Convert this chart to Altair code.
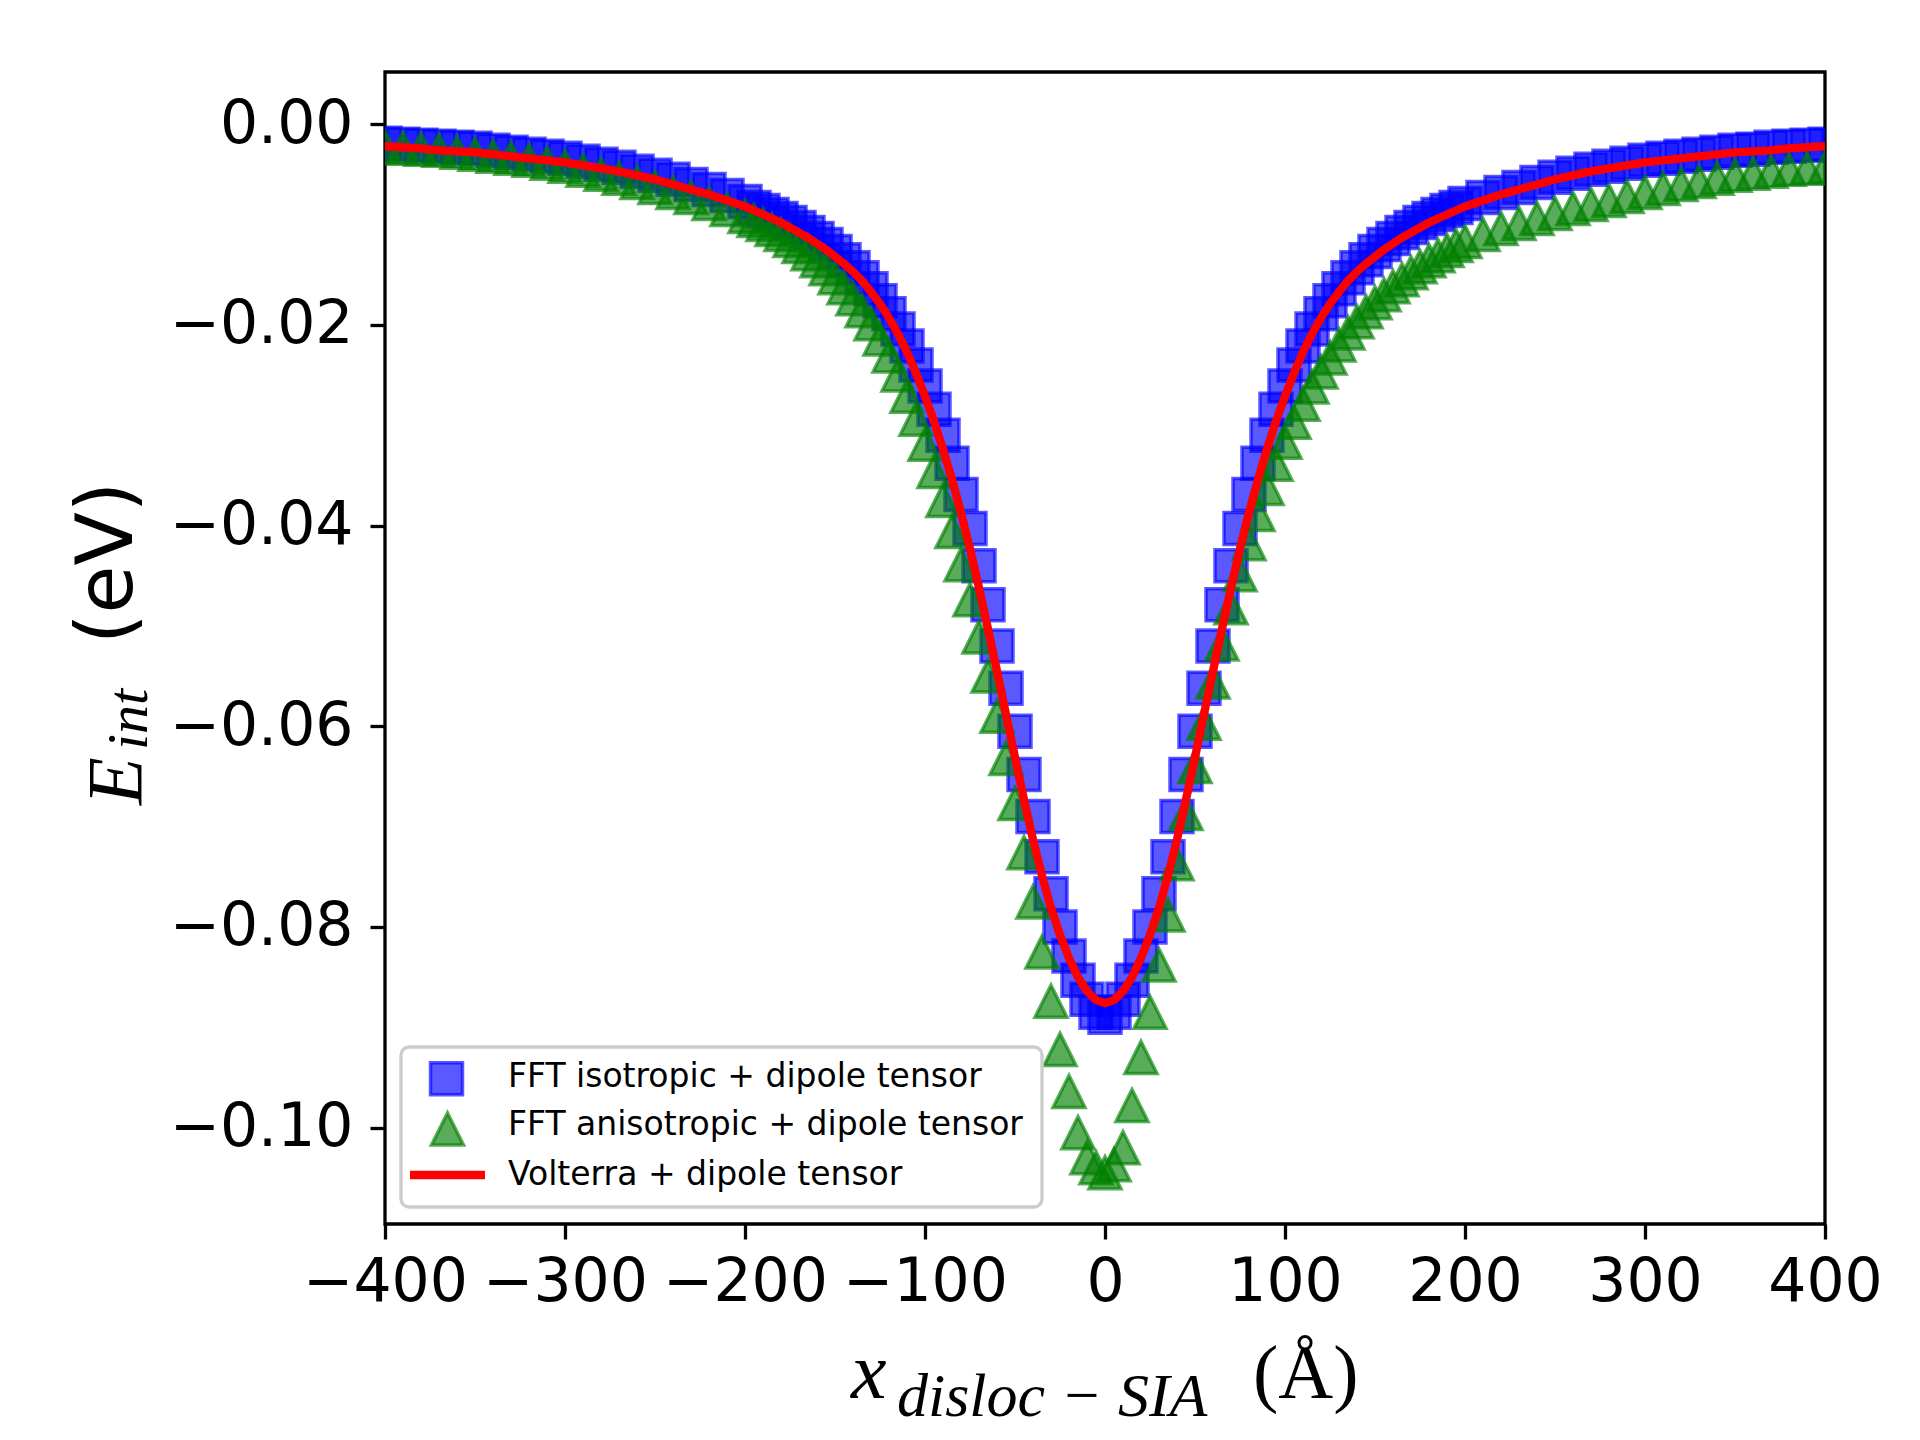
import altair as alt
import pandas as pd

# ---------------- data ----------------
x_values = [
    -400, -390, -380, -370, -360, -350, -340, -330, -320, -310, -300,
    -290, -280, -270, -260, -250, -240, -230, -220, -210, -200,
    -195, -190, -185, -180, -175, -170, -165, -160, -155, -150,
    -145, -140, -135, -130, -125, -120, -115, -110, -105, -100,
    -95, -90, -85, -80, -75, -70, -65, -60, -55, -50,
    -45, -40, -35, -30, -25, -20, -15, -10, -5, 0,
    5, 10, 15, 20, 25, 30, 35, 40, 45, 50,
    55, 60, 65, 70, 75, 80, 85, 90, 95, 100,
    105, 110, 115, 120, 125, 130, 135, 140, 145, 150,
    155, 160, 165, 170, 175, 180, 185, 190, 195,
    200, 210, 220, 230, 240, 250, 260, 270, 280, 290, 300,
    310, 320, 330, 340, 350, 360, 370, 380, 390, 400,
]

blue_iso = [
    -0.0019, -0.0020, -0.0021, -0.0022, -0.0023, -0.0024, -0.0026, -0.0028, -0.0030, -0.0032, -0.0034,
    -0.0037, -0.0040, -0.0043, -0.0047, -0.0051, -0.0055, -0.0060, -0.0065, -0.0071, -0.0077,
    -0.0083, -0.0086, -0.0090, -0.0094, -0.0098, -0.0103, -0.0108, -0.0114, -0.0120, -0.0127,
    -0.0135, -0.0143, -0.0153, -0.0164, -0.0176, -0.0189, -0.0204, -0.0221, -0.0240, -0.0261,
    -0.0284, -0.0310, -0.0338, -0.0369, -0.0403, -0.0440, -0.0479, -0.0520, -0.0562, -0.0605,
    -0.0648, -0.0690, -0.0730, -0.0767, -0.0800, -0.0829, -0.0853, -0.0872, -0.0885, -0.0890,
    -0.0885, -0.0872, -0.0853, -0.0829, -0.0800, -0.0767, -0.0730, -0.0690, -0.0648, -0.0605,
    -0.0562, -0.0520, -0.0479, -0.0440, -0.0403, -0.0369, -0.0338, -0.0310, -0.0284, -0.0261,
    -0.0240, -0.0221, -0.0204, -0.0189, -0.0176, -0.0164, -0.0153, -0.0143, -0.0135, -0.0127,
    -0.0120, -0.0114, -0.0108, -0.0103, -0.0098, -0.0094, -0.0090, -0.0086, -0.0083,
    -0.0079, -0.0073, -0.0068, -0.0063, -0.0058, -0.0053, -0.0049, -0.0045, -0.0042, -0.0039, -0.0036,
    -0.0034, -0.0032, -0.0030, -0.0028, -0.0026, -0.0025, -0.0023, -0.0022, -0.0021, -0.0020,
]

green_aniso = [
    -0.0023, -0.0024, -0.0025, -0.0026, -0.0028, -0.0030, -0.0032, -0.0034, -0.0036, -0.0039, -0.0042,
    -0.0046, -0.0050, -0.0054, -0.0058, -0.0063, -0.0068, -0.0073, -0.0079, -0.0085, -0.0092,
    -0.0096, -0.0100, -0.0105, -0.0110, -0.0116, -0.0122, -0.0129, -0.0136, -0.0144, -0.0153,
    -0.0163, -0.0174, -0.0186, -0.0199, -0.0214, -0.0231, -0.0250, -0.0271, -0.0294, -0.0319,
    -0.0346, -0.0375, -0.0406, -0.0439, -0.0474, -0.0511, -0.0550, -0.0590, -0.0632, -0.0677,
    -0.0726, -0.0775, -0.0825, -0.0874, -0.0922, -0.0964, -0.1005, -0.1030, -0.1040, -0.1045,
    -0.1037, -0.1020, -0.0978, -0.0930, -0.0885, -0.0838, -0.0788, -0.0737, -0.0687, -0.0640,
    -0.0597, -0.0556, -0.0518, -0.0482, -0.0449, -0.0418, -0.0389, -0.0363, -0.0339, -0.0317,
    -0.0297, -0.0279, -0.0262, -0.0247, -0.0233, -0.0220, -0.0208, -0.0197, -0.0187, -0.0178,
    -0.0170, -0.0162, -0.0155, -0.0148, -0.0142, -0.0136, -0.0131, -0.0126, -0.0121,
    -0.0117, -0.0110, -0.0104, -0.0099, -0.0094, -0.0089, -0.0084, -0.0080, -0.0076, -0.0072, -0.0068,
    -0.0064, -0.0060, -0.0057, -0.0054, -0.0051, -0.0049, -0.0047, -0.0045, -0.0044, -0.0043,
]

red_volterra = [
    -0.0022, -0.0023, -0.0024, -0.0026, -0.0027, -0.0028, -0.0030, -0.0032, -0.0034, -0.0036, -0.0038,
    -0.0041, -0.0044, -0.0047, -0.0051, -0.0055, -0.0060, -0.0065, -0.0070, -0.0076, -0.0082,
    -0.0086, -0.0090, -0.0094, -0.0098, -0.0103, -0.0108, -0.0113, -0.0119, -0.0125, -0.0132,
    -0.0139, -0.0147, -0.0156, -0.0167, -0.0179, -0.0193, -0.0209, -0.0227, -0.0248, -0.0271,
    -0.0296, -0.0324, -0.0354, -0.0387, -0.0423, -0.0462, -0.0503, -0.0545, -0.0588, -0.0631,
    -0.0673, -0.0713, -0.0749, -0.0781, -0.0808, -0.0831, -0.0850, -0.0864, -0.0873, -0.0876,
    -0.0873, -0.0864, -0.0850, -0.0831, -0.0808, -0.0781, -0.0749, -0.0713, -0.0673, -0.0631,
    -0.0588, -0.0545, -0.0503, -0.0462, -0.0423, -0.0387, -0.0354, -0.0324, -0.0296, -0.0271,
    -0.0248, -0.0227, -0.0209, -0.0193, -0.0179, -0.0167, -0.0156, -0.0147, -0.0139, -0.0132,
    -0.0125, -0.0119, -0.0113, -0.0108, -0.0103, -0.0098, -0.0094, -0.0090, -0.0086,
    -0.0082, -0.0076, -0.0070, -0.0065, -0.0060, -0.0055, -0.0051, -0.0047, -0.0044, -0.0041, -0.0038,
    -0.0036, -0.0034, -0.0032, -0.0030, -0.0028, -0.0027, -0.0026, -0.0024, -0.0023, -0.0022,
]

legend_labels = [
    "FFT isotropic + dipole tensor",
    "FFT anisotropic + dipole tensor",
    "Volterra + dipole tensor",
]
x_ticks = [-400, -300, -200, -100, 0, 100, 200, 300, 400]
y_ticks = [0.0, -0.02, -0.04, -0.06, -0.08, -0.10]

# ---------------- chart ----------------
W, H = 1440, 1152
TRI = "M0,-1L1,1L-1,1Z"

xscale = alt.Scale(domain=[-400, 400], nice=False, zero=False)
yscale = alt.Scale(domain=[-0.1096, 0.0052], nice=False, zero=False)

common_axis = dict(
    title=None, grid=False, domain=False,
    labelFont="DejaVu Sans", labelFontSize=60, labelColor="black",
    tickColor="black", tickSize=15, tickWidth=3.3,
    labelFlush=False, labelOverlap=False, labelLimit=600,
)
xaxis = alt.Axis(values=x_ticks, format="d", labelPadding=14, **common_axis)
yaxis = alt.Axis(values=y_ticks, format=".2f", labelPadding=17, **common_axis)

df_blue = pd.DataFrame({"x": x_values, "E": blue_iso})
df_green = pd.DataFrame({"x": x_values, "E": green_aniso})
df_red = pd.DataFrame({"x": x_values, "E": red_volterra})

enc = dict(
    x=alt.X("x:Q", scale=xscale, axis=xaxis),
    y=alt.Y("E:Q", scale=yscale, axis=yaxis),
)

blue = alt.Chart(df_blue).mark_point(
    shape="square", filled=True, size=1024, opacity=1,
    fill="blue", fillOpacity=0.65, stroke="blue", strokeOpacity=0.65,
    strokeWidth=3.5, clip=True,
).encode(**enc)

green = alt.Chart(df_green).mark_point(
    shape=TRI, filled=True, size=1024, opacity=1,
    fill="green", fillOpacity=0.65, stroke="green", strokeOpacity=0.65,
    strokeWidth=3.5, clip=True,
).encode(**enc)

red = alt.Chart(df_red).mark_line(
    color="red", strokeWidth=8.3, clip=True,
).encode(**enc)

one = pd.DataFrame({"k": [0]})


def txt(s, x, y, size, font="DejaVu Sans", style="normal", angle=0,
        align="left", baseline="alphabetic"):
    return alt.Chart(one).mark_text(
        text=s, font=font, fontSize=size, fontStyle=style, angle=angle,
        align=align, baseline=baseline, color="black",
    ).encode(x=alt.value(x), y=alt.value(y))


# legend
leg_box = alt.Chart(one).mark_rect(
    cornerRadius=8, fill="white", fillOpacity=0.8,
    stroke="#cccccc", strokeWidth=3.3,
).encode(x=alt.value(16), x2=alt.value(657), y=alt.value(975), y2=alt.value(1135))

leg_sq = alt.Chart(one).mark_point(
    shape="square", filled=True, size=1024, opacity=1,
    fill="blue", fillOpacity=0.65, stroke="blue", strokeOpacity=0.65, strokeWidth=3.5,
).encode(x=alt.value(61.5), y=alt.value(1006.7))

leg_tri = alt.Chart(one).mark_point(
    shape=TRI, filled=True, size=1024, opacity=1,
    fill="green", fillOpacity=0.65, stroke="green", strokeOpacity=0.65, strokeWidth=3.5,
).encode(x=alt.value(62.5), y=alt.value(1057))

leg_line = alt.Chart(one).mark_rule(color="red", strokeWidth=8.3).encode(
    x=alt.value(25), x2=alt.value(100), y=alt.value(1103)
)

leg_t1 = txt(legend_labels[0], 123, 1005, 33, baseline="middle")
leg_t2 = txt(legend_labels[1], 123, 1053, 33, baseline="middle")
leg_t3 = txt(legend_labels[2], 123, 1103, 33, baseline="middle")

# axis titles (math-like composition)
SERIF = "Liberation Serif"
yt_E = txt("E", -244, 733, 78, font=SERIF, style="italic", angle=270)
yt_int = txt("int", -238, 678, 58, font=SERIF, style="italic", angle=270)
yt_ev = txt("(eV)", -253, 572, 78, angle=270)

xt_x = txt("x", 466, 1326, 80, font=SERIF, style="italic")
xt_sub = txt("disloc \u2212 SIA", 512, 1344, 62, font=SERIF, style="italic")
xt_unit = txt("(\u00c5)", 868, 1326, 76, font=SERIF)

chart = alt.layer(
    blue, green, red,
    leg_box, leg_sq, leg_tri, leg_line, leg_t1, leg_t2, leg_t3,
    yt_E, yt_int, yt_ev, xt_x, xt_sub, xt_unit,
).properties(
    width=W, height=H,
    padding={"left": 377, "top": 64, "right": 80, "bottom": 215},
    autosize=alt.AutoSizeParams(type="none"),
    background="white",
).configure_view(
    stroke="black", strokeWidth=3.3,
)

chart.save("out.html", embed_options={"renderer": "svg", "actions": False})
